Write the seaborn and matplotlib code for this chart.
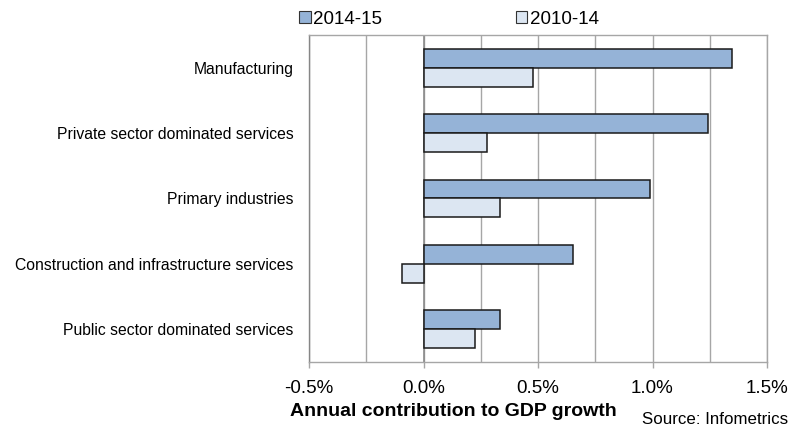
import matplotlib
matplotlib.use("Agg")
import matplotlib.pyplot as plt
import seaborn as sns
import pandas as pd
from matplotlib.ticker import MultipleLocator, FuncFormatter
from matplotlib.patches import Patch

categories = ["Manufacturing", "Private sector dominated services", "Primary industries",
              "Construction and infrastructure services", "Public sector dominated services"]
series_names = ["2014-15", "2010-14"]
values_2014_15 = [1.345, 1.243, 0.99, 0.655, 0.332]
values_2010_14 = [0.476, 0.276, 0.335, -0.093, 0.227]
xticks = [-0.5, 0.0, 0.5, 1.0, 1.5]
colors = {"2014-15": "#95B3D7", "2010-14": "#DCE6F2"}

df = pd.DataFrame({
    "category": categories * 2,
    "period": [series_names[0]] * len(categories) + [series_names[1]] * len(categories),
    "value": values_2014_15 + values_2010_14,
})

sns.set_style("white")
plt.rcParams["font.family"] = ["Liberation Sans", "DejaVu Sans"]
plt.rcParams["text.color"] = "black"
plt.rcParams["xtick.labelcolor"] = "black"
plt.rcParams["ytick.labelcolor"] = "black"

fig = plt.figure(figsize=(8, 4.32), dpi=100)
ax = fig.add_axes([309/800, 1 - 362/432, (767-309)/800, (362-35)/432])

sns.barplot(data=df, y="category", x="value", hue="period", order=categories,
            hue_order=series_names, palette=colors, orient="h", width=0.58,
            saturation=1, edgecolor="#1a1a1a", linewidth=1.1, ax=ax, legend=False, zorder=3)

ax.set_xlim(xticks[0], xticks[-1])
ax.set_xticks(xticks)
ax.xaxis.set_minor_locator(MultipleLocator(0.25))
ax.xaxis.set_major_formatter(FuncFormatter(lambda v, p: f"{v:.1f}%"))
ax.grid(axis="x", which="both", color="#A6A6A6", linewidth=1.0, zorder=0)
ax.set_axisbelow(True)
ax.axvline(0, color="#8C8C8C", linewidth=1.2, zorder=2)

for s in ax.spines.values():
    s.set_color("#A6A6A6")
    s.set_linewidth(1.0)
ax.spines["left"].set_color("#868686")

ax.tick_params(axis="x", which="major", length=4, width=1, color="#A6A6A6",
               labelsize=13.5, pad=9, direction="out", bottom=True, labelcolor="black")
ax.tick_params(axis="x", which="minor", length=0)
ax.tick_params(axis="y", length=0, labelsize=11.3, pad=11, labelcolor="black")
ax.set_xlabel("")
ax.set_ylabel("")

fig.text(453/800, 1 - 412/432, "Annual contribution to GDP growth", ha="center", va="center",
         fontsize=14, fontweight="bold", color="black")
fig.text(788/800, 1 - 419/432, "Source: Infometrics", ha="right", va="center", fontsize=12.2,
         color="black")

handles = [Patch(facecolor=colors[n], edgecolor="#333333", linewidth=0.8) for n in series_names]
fig.legend(handles, series_names, loc="center", bbox_to_anchor=(449/800, 1 - 19/432), ncol=2,
           frameon=False, fontsize=13.5, handlelength=0.6, handleheight=0.6,
           handletextpad=0.15, columnspacing=7.1, borderpad=0, labelcolor="black")

fig.savefig("out.png", dpi=100)
